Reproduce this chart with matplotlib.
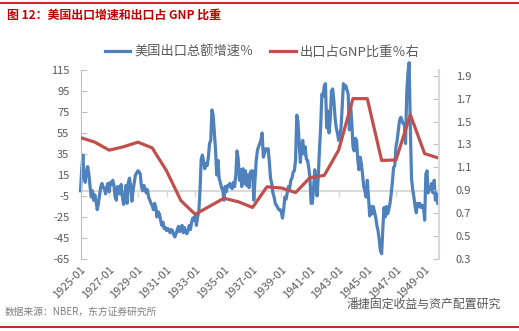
import matplotlib
matplotlib.use("Agg")
import matplotlib.pyplot as plt
import numpy as np

plt.rcParams['font.family'] = ['Noto Sans CJK SC', 'DejaVu Sans']

# Monthly US export growth (%), 1925-01 .. 1949-12
export_growth = [
    0, 20, 34, 13, 8, 18, 23, 16, 4, -6, 0, -9,            # 1925
    -4, -10, -18, -12, -4, 4, 7, 3, 2, -3, 4, 7,           # 1926
    -1, 8, 6, 10, 5, -6, -9, 4, 2, -3, 6, -5,              # 1927
    -13, -10, 5, -12, 8, 12, 4, -10, 0, 8, 15, 17,         # 1928
    19, 18, 16, 4, 0, 5, 2, -2, 1, -6, -9, -12,            # 1929
    -14, -18, -12, -16, -25, -20, -22, -28, -33, -30, -36, -35,  # 1930
    -38, -36, -37, -40, -37, -38, -42, -44, -41, -37, -34, -39,  # 1931
    -37, -33, -40, -35, -39, -41, -38, -33, -37, -30, -26, -28,  # 1932
    -24, -33, -25, -20, 0, 30, 34, 28, 21, 26, 24, 32,     # 1933
    45, 48, 77, 72, 55, 39, 15, 29, 12, 8, 3, 1,           # 1934
    -9, 4, -1, 5, 4, 7, 3, 2, 8, 4, 16, 38,                # 1935
    30, 10, 20, 4, 21, 7, 19, 5, 15, 3, 17, 19,            # 1936
    19, -9, 10, 28, 38, 42, 45, 48, 55, 32, 36, 40,        # 1937
    38, 40, 28, 12, 7, -2, -6, -12, -14, -16, -18, -18,    # 1938
    -20, -26, -18, -6, -8, -2, 4, 2, 10, 12, 18, 19,       # 1939
    30, 72, 66, 45, 27, 44, 48, 35, 42, 30, 29, 22,        # 1940
    12, -12, -12, 2, 20, 10, -5, 14, 40, 61, 92, 90,       # 1941
    100, 102, 60, 76, 55, 68, 95, 97, 86, 70, 60, 55,      # 1942
    48, 52, 60, 80, 102, 98, 100, 96, 92, 58, 82, 66,      # 1943
    42, 38, 50, 48, 30, 20, 32, 26, 16, 4, 0, -6,          # 1944
    10, -6, -24, -15, -22, -15, -20, -25, -33, -38, -47, -57,    # 1945
    -60, -36, -16, -25, -15, -22, -18, -12, -3, 8, 22, 24, # 1946
    42, 48, 58, 67, 70, 67, 64, 64, 45, 93, 112, 122,      # 1947
    60, 12, 1, -6, -15, -21, -12, -15, -12, -16, -14, -15, # 1948
    -28, 16, 19, -2, 4, 1, 7, -2, 10, -9, -3, -12,         # 1949
]

# Annual exports as share of GNP (%), 1925 .. 1950 (right axis)
gnp_share = [1.36, 1.32, 1.25, 1.28, 1.32, 1.27, 1.07, 0.81, 0.69, 0.76,
             0.83, 0.80, 0.75, 0.93, 0.92, 0.88, 1.01, 1.03, 1.25, 1.70,
             1.70, 1.16, 1.165, 1.56, 1.22, 1.18]

xtick_labels = ['1925-01', '1927-01', '1929-01', '1931-01', '1933-01', '1935-01',
                '1937-01', '1939-01', '1941-01', '1943-01', '1945-01', '1947-01', '1949-01']
left_ticks = [115, 95, 75, 55, 35, 15, -5, -25, -45, -65]
right_ticks = [1.9, 1.7, 1.5, 1.3, 1.1, 0.9, 0.7, 0.5, 0.3]

month_idx = np.arange(len(export_growth))
year_idx = np.arange(len(gnp_share)) * 12
xtick_pos = np.arange(len(xtick_labels)) * 24

BLUE = '#4f81bd'
RED = '#c0504d'
GRID = '#d9d9d9'
TXT = '#595959'

fig = plt.figure(figsize=(5.19, 3.31), dpi=100)
ax = fig.add_axes([80.5/519, 1-259/331, (439-80.5)/519, (259-70)/331])
ax2 = ax.twinx()

l1, = ax.plot(month_idx, export_growth, color=BLUE, lw=2.3, clip_on=False,
              solid_joinstyle='round', label='美国出口总额增速％')
l2, = ax2.plot(year_idx, gnp_share, color=RED, lw=2.3,
               solid_joinstyle='round', label='出口占GNP比重％右')

ax.set_xlim(0, 300)
ax.set_ylim(-65, 115)
ax2.set_ylim(0.3, 1.95)

ax.set_yticks(left_ticks)
ax.set_yticklabels([str(t) for t in left_ticks])
ax2.set_yticks(right_ticks)
ax2.set_yticklabels([f'{t:.1f}' for t in right_ticks])

ax.set_xticks(xtick_pos)
ax.set_xticklabels(xtick_labels, rotation=45, ha='right', rotation_mode='anchor')
ax.tick_params(axis='x', length=0, pad=4, labelsize=8, labelcolor=TXT)
ax.tick_params(axis='y', direction='in', length=4, color='#bfbfbf', labelsize=8,
               labelcolor=TXT, pad=8)
ax2.tick_params(axis='y', direction='in', length=4, color='#bfbfbf', labelsize=8,
                labelcolor=TXT, pad=12)

for a in (ax, ax2):
    a.spines['top'].set_visible(False)
    a.spines['bottom'].set_visible(False)
    a.spines['left'].set_color('#bfbfbf')
    a.spines['right'].set_color(GRID)
    a.spines['right'].set_linewidth(1.5)
ax2.spines['left'].set_visible(False)
ax.spines['right'].set_visible(False)

# category axis crossing at zero
sec = ax.secondary_xaxis(65/180)
sec.set_xticks(xtick_pos)
sec.set_xticklabels([])
sec.tick_params(axis='x', direction='out', length=4, color=GRID, width=1)
sec.spines['bottom'].set_color(GRID)
sec.spines['bottom'].set_linewidth(1.5)
for s in ('top', 'left', 'right'):
    sec.spines[s].set_visible(False)

fig.legend(handles=[l1, l2], loc='center left', bbox_to_anchor=(105/519, 1-52/331),
           ncol=2, frameon=False, fontsize=9.5, handlelength=1.9, handletextpad=0.3,
           columnspacing=1.3, labelcolor=TXT, borderaxespad=0, borderpad=0)

# title and frame lines
fig.add_artist(plt.Line2D([0, 1], [1-3/331, 1-3/331], color='#c00000', lw=1.2))
fig.text(7/519, 1-15/331, '图 12：美国出口增速和出口占 GNP 比重', color='#c00000',
         fontsize=8.6, fontweight='bold', va='center', ha='left')
fig.add_artist(plt.Line2D([0, 1], [1-327/331, 1-327/331], color='#c00000', lw=1.2))
fig.text(5/519, 1-312/331, '数据来源：NBER，东方证券研究所', color='#7f7f7f',
         fontsize=7, va='center', ha='left')
fig.text(347/519, 1-304/331, '潘捷固定收益与资产配置研究', color='#595959',
         fontsize=8.6, va='center', ha='left')

fig.savefig('out.png', dpi=100)
